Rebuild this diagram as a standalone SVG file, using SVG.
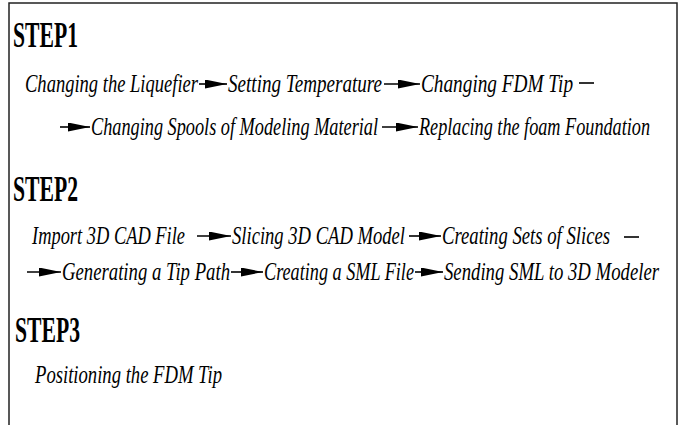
<svg xmlns="http://www.w3.org/2000/svg" width="684" height="425" viewBox="0 0 684 425">
<defs>
<style>
.step{font-family:"Liberation Serif",serif;font-weight:bold;font-size:35px;fill:#000;}
.t{font-family:"Liberation Serif",serif;font-style:italic;font-size:25px;fill:#000;}
.c{stroke:#000;stroke-width:1.6;fill:none;}
.border{fill:none;stroke:#222;stroke-width:1.5;}
</style>
<marker id="ah" viewBox="0 0 22 9" refX="22" refY="4.5" markerWidth="22" markerHeight="9" markerUnits="userSpaceOnUse" orient="auto">
<path d="M0,0 L22,4.5 L0,9 Z" fill="#000"/>
</marker>
</defs>
<rect width="684" height="425" fill="#fff"/>
<rect class="border" x="9" y="3" width="668" height="440"/>

<g id="step1"><text class="step" transform="translate(13,47) scale(0.62,1)" textLength="104.8" lengthAdjust="spacingAndGlyphs">STEP1</text></g>
<g id="n1"><text class="t" transform="translate(25,92) scale(0.75,1)" textLength="230.7" lengthAdjust="spacingAndGlyphs">Changing the Liquefier</text></g>
<g id="n2"><text class="t" transform="translate(228,92) scale(0.75,1)" textLength="205.3" lengthAdjust="spacingAndGlyphs">Setting Temperature</text></g>
<g id="n3"><text class="t" transform="translate(421,92) scale(0.75,1)" textLength="202.7" lengthAdjust="spacingAndGlyphs">Changing FDM Tip</text></g>
<g id="n4"><text class="t" transform="translate(91,135) scale(0.75,1)" textLength="382.7" lengthAdjust="spacingAndGlyphs">Changing Spools of Modeling Material</text></g>
<g id="n5"><text class="t" transform="translate(419,135) scale(0.75,1)" textLength="308" lengthAdjust="spacingAndGlyphs">Replacing the foam Foundation</text></g>

<g id="step2"><text class="step" transform="translate(13,201) scale(0.62,1)" textLength="104.8" lengthAdjust="spacingAndGlyphs">STEP2</text></g>
<g id="n6"><text class="t" transform="translate(32,244) scale(0.75,1)" textLength="204" lengthAdjust="spacingAndGlyphs">Import 3D CAD File</text></g>
<g id="n7"><text class="t" transform="translate(232,244) scale(0.75,1)" textLength="230.7" lengthAdjust="spacingAndGlyphs">Slicing 3D CAD Model</text></g>
<g id="n8"><text class="t" transform="translate(442,244) scale(0.75,1)" textLength="224" lengthAdjust="spacingAndGlyphs">Creating Sets of Slices</text></g>
<g id="n9"><text class="t" transform="translate(62,280) scale(0.75,1)" textLength="224" lengthAdjust="spacingAndGlyphs">Generating a Tip Path</text></g>
<g id="n10"><text class="t" transform="translate(264,280) scale(0.75,1)" textLength="200" lengthAdjust="spacingAndGlyphs">Creating a SML File</text></g>
<g id="n11"><text class="t" transform="translate(444,280) scale(0.75,1)" textLength="286.7" lengthAdjust="spacingAndGlyphs">Sending SML to 3D Modeler</text></g>

<g id="step3"><text class="step" transform="translate(15,342) scale(0.62,1)" textLength="104.8" lengthAdjust="spacingAndGlyphs">STEP3</text></g>
<g id="n12"><text class="t" transform="translate(35,383) scale(0.75,1)" textLength="249.3" lengthAdjust="spacingAndGlyphs">Positioning the FDM Tip</text></g>

<g id="connectors">
<path class="c" d="M199,84 H227" marker-end="url(#ah)"/>
<path class="c" d="M384,84 H420" marker-end="url(#ah)"/>
<path class="c" d="M579,83 H594"/>
<path class="c" d="M60,127 H90" marker-end="url(#ah)"/>
<path class="c" d="M382,127 H418" marker-end="url(#ah)"/>
<path class="c" d="M197,236 H231" marker-end="url(#ah)"/>
<path class="c" d="M409,236 H441" marker-end="url(#ah)"/>
<path class="c" d="M624,237 H639"/>
<path class="c" d="M27,272 H61" marker-end="url(#ah)"/>
<path class="c" d="M231,272 H263" marker-end="url(#ah)"/>
<path class="c" d="M415,272 H443" marker-end="url(#ah)"/>
</g>
</svg>
